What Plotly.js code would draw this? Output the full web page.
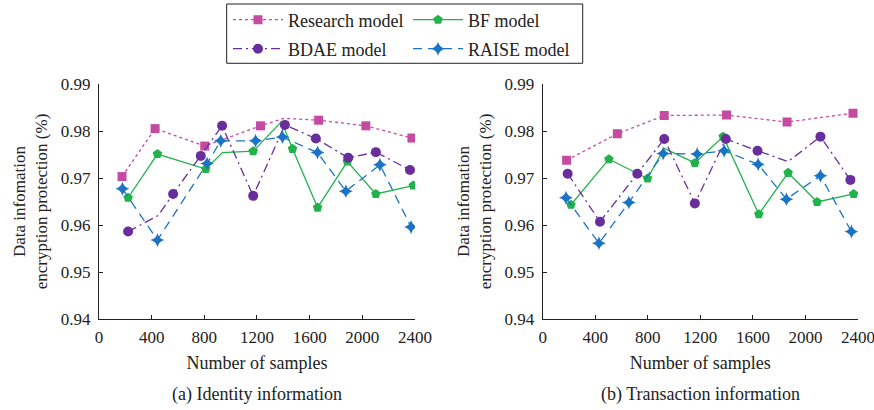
<!DOCTYPE html>
<html>
<head>
<meta charset="utf-8">
<script src="https://cdn.plot.ly/plotly-3.0.1.min.js"></script>
<style>html,body{margin:0;padding:0;background:#fff;}#chart{width:874px;height:410px;}</style>
</head>
<body>
<div id="chart"></div>
<script>
// ---------- data: (a) Identity information ----------
const idResearchX = [175, 426, 803, 1227, 1404, 1668, 2027, 2377];
const idResearchY = [0.9703, 0.9805, 0.9768, 0.9811, 0.9827, 0.9823, 0.9811, 0.9785];
const idResearchBends = [4];

const idBFX = [221, 444, 811, 938, 1171, 1386, 1470, 1660, 1886, 2103, 2387];
const idBFY = [0.9658, 0.9751, 0.9719, 0.9754, 0.9757, 0.9820, 0.9762, 0.9637, 0.9735, 0.9666, 0.9684];
const idBFBends = [3, 5];

const idBDAEX = [221, 449, 563, 773, 935, 1171, 1412, 1647, 1893, 2103, 2362];
const idBDAEY = [0.9586, 0.9620, 0.9666, 0.9747, 0.9811, 0.9662, 0.9813, 0.9784, 0.9743, 0.9755, 0.9717];
const idBDAEBends = [1];

const idRAISEX = [178, 444, 821, 925, 1189, 1394, 1660, 1875, 2134, 2370];
const idRAISEY = [0.9677, 0.9568, 0.9731, 0.9779, 0.9779, 0.9787, 0.9754, 0.9672, 0.9728, 0.9596];
const idRAISEBends = [];

// ---------- data: (b) Transaction information ----------
const trResearchX = [182, 568, 925, 1399, 1860, 2362];
const trResearchY = [0.9738, 0.9794, 0.9833, 0.9834, 0.9819, 0.9838];
const trResearchBends = [];

const trBFX = [215, 504, 798, 925, 1158, 1374, 1645, 1868, 2089, 2367];
const trBFY = [0.9643, 0.9740, 0.9699, 0.9763, 0.9732, 0.9788, 0.9623, 0.9711, 0.9649, 0.9666];
const trBFBends = [3];

const trBDAEX = [190, 436, 720, 925, 1158, 1394, 1635, 1868, 2114, 2342];
const trBDAEY = [0.9709, 0.9607, 0.9709, 0.9783, 0.9646, 0.9783, 0.9758, 0.9735, 0.9788, 0.9696];
const trBDAEBends = [7];

const trRAISEX = [177, 428, 656, 917, 1176, 1381, 1640, 1855, 2114, 2350];
const trRAISEY = [0.9658, 0.9561, 0.9648, 0.9752, 0.9751, 0.9758, 0.9729, 0.9655, 0.9705, 0.9586];
const trRAISEBends = [];

const seriesNames = ['Research model', 'BF model', 'BDAE model', 'RAISE model'];
const xTickVals = [0, 400, 800, 1200, 1600, 2000, 2400];
const yTickVals = [0.94, 0.95, 0.96, 0.97, 0.98, 0.99];
const yTitle = 'Data infomation<br>encryption protection (%)';
const xTitle = 'Number of samples';
const captions = ['(a) Identity information', '(b) Transaction information'];

// ---------- styles ----------
const FONT = 'Liberation Serif';
const INK = '#222222';
const styles = [
  {color: '#C54AA2', dash: 'dot', symbol: 'square', size: 9, legend: 'legend'},
  {color: '#22B24C', dash: 'solid', symbol: 'pentagon', size: 10, legend: 'legend'},
  {color: '#6A2E9C', dash: '9px,4px,2px,4px', symbol: 'circle', size: 10, legend: 'legend2'},
  {color: '#1A73C4', dash: '9px,6px', symbol: 'star-diamond', size: 10, legend: 'legend2'}
];

function mk(x, y, bends, k, xa, ya, showlegend) {
  const s = styles[k];
  const mcol = x.map((_, i) => bends.includes(i) ? 'rgba(0,0,0,0)' : s.color);
  return {
    type: 'scatter', mode: 'lines+markers', name: seriesNames[k],
    x: x, y: y, xaxis: xa, yaxis: ya,
    line: {color: s.color, width: 1.3, dash: s.dash},
    marker: {symbol: s.symbol, size: s.size, color: mcol, line: {width: 0}},
    showlegend: showlegend, legend: s.legend, hoverinfo: 'x+y'
  };
}

const traces = [
  mk(idResearchX, idResearchY, idResearchBends, 0, 'x', 'y', true),
  mk(idBFX, idBFY, idBFBends, 1, 'x', 'y', true),
  mk(idBDAEX, idBDAEY, idBDAEBends, 2, 'x', 'y', true),
  mk(idRAISEX, idRAISEY, idRAISEBends, 3, 'x', 'y', true),
  mk(trResearchX, trResearchY, trResearchBends, 0, 'x2', 'y2', false),
  mk(trBFX, trBFY, trBFBends, 1, 'x2', 'y2', false),
  mk(trBDAEX, trBDAEY, trBDAEBends, 2, 'x2', 'y2', false),
  mk(trRAISEX, trRAISEY, trRAISEBends, 3, 'x2', 'y2', false)
];

function xAxis(domain, anchor) {
  return {
    domain: domain, anchor: anchor, range: [0, 2400], tickvals: xTickVals,
    ticks: 'inside', ticklen: 4, tickcolor: INK, showline: true, linecolor: INK, linewidth: 1,
    showgrid: false, zeroline: false, tickfont: {family: FONT, size: 17, color: INK},
    ticklabelstandoff: 3, ticklabeloverflow: 'allow',
    title: {text: xTitle, font: {family: FONT, size: 18, color: INK}, standoff: 9}
  };
}
function yAxis(anchor) {
  return {
    anchor: anchor, range: [0.94, 0.99], tickvals: yTickVals, tickformat: '.2f',
    ticks: 'inside', ticklen: 4, tickcolor: INK, showline: true, linecolor: INK, linewidth: 1,
    showgrid: false, zeroline: false, tickfont: {family: FONT, size: 17, color: INK},
    ticklabelstandoff: 4, ticklabeloverflow: 'allow',
    title: {text: yTitle, font: {family: FONT, size: 17, color: INK}, standoff: 8}
  };
}

const legendCommon = {
  orientation: 'h', xref: 'container', yref: 'container', xanchor: 'left', yanchor: 'middle',
  font: {family: FONT, size: 18, color: INK}, bgcolor: 'rgba(0,0,0,0)', borderwidth: 0,
  itemwidth: 50, entrywidth: 115, entrywidthmode: 'pixels', tracegroupgap: 0
};

const layout = {
  width: 874, height: 410,
  margin: {l: 99, r: 16, t: 84, b: 91},
  paper_bgcolor: '#fff', plot_bgcolor: '#fff',
  font: {family: FONT, color: INK, size: 16},
  xaxis: xAxis([0, 0.4163], 'y'),
  yaxis: yAxis('x'),
  xaxis2: xAxis([0.5846, 1], 'y2'),
  yaxis2: yAxis('x2'),
  legend: Object.assign({}, legendCommon, {x: 228 / 874, y: 1 - 20 / 410}),
  legend2: Object.assign({}, legendCommon, {x: 228 / 874, y: 1 - 49 / 410}),
  shapes: [{type: 'rect', xref: 'paper', yref: 'paper', x0: 0.1682, x1: 0.6373, y0: 1.0881, y1: 1.3404,
            line: {color: INK, width: 1}, fillcolor: 'rgba(0,0,0,0)'}],
  annotations: [
    {text: captions[0], xref: 'x domain', yref: 'paper', x: 0.5, y: -0.322, xanchor: 'center', yanchor: 'middle',
     showarrow: false, font: {family: FONT, size: 18, color: INK}},
    {text: captions[1], xref: 'x2 domain', yref: 'paper', x: 0.5, y: -0.322, xanchor: 'center', yanchor: 'middle',
     showarrow: false, font: {family: FONT, size: 18, color: INK}}
  ]
};

Plotly.newPlot('chart', traces, layout, {displayModeBar: false, staticPlot: true});
</script>
</body>
</html>
